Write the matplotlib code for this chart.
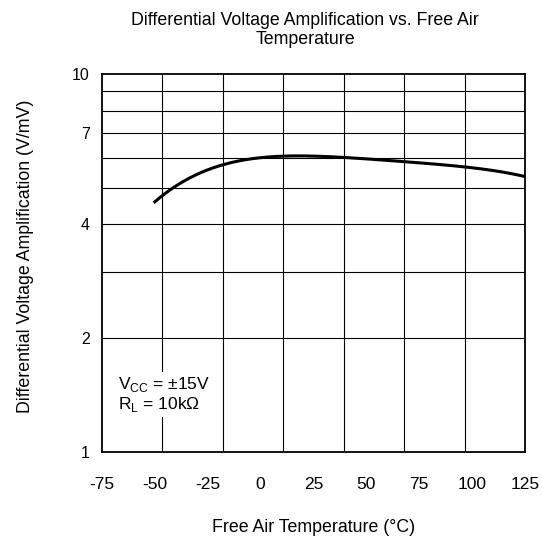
import matplotlib
matplotlib.use("Agg")
import matplotlib.pyplot as plt
import numpy as np
from matplotlib.ticker import FixedLocator, NullLocator

plt.rcParams['font.family'] = ['Liberation Sans', 'DejaVu Sans']

temps = [-50, -40, -25, -10, 0, 15, 25, 50, 75, 100, 125]
gain = [4.56, 5.12, 5.56, 5.88, 6.0, 6.07, 6.06, 5.98, 5.83, 5.63, 5.36]
x_ticks = [-75, -50, -25, 0, 25, 50, 75, 100, 125]
y_ticks = [1, 2, 4, 7, 10]
y_grid = [2, 3, 4, 5, 6, 7, 8, 9]

W, H = 542, 539
fig = plt.figure(figsize=(W / 100, H / 100), dpi=100)
ax = fig.add_axes([102 / W, 1 - 452 / H, 423 / W, 378 / H])
ax.set_yscale('log')
ax.set_xlim(-75, 125)
ax.set_ylim(1, 10)

# curve (smooth through read points)
xs = np.linspace(temps[0], temps[-1], 300)
coef = np.polyfit(temps, np.log10(gain), 4)
ax.plot(xs, 10 ** np.polyval(coef, xs), color='black', lw=2.2, zorder=3)

# grid: horizontal at 2..9, vertical at 7 equal divisions
for g in y_grid:
    ax.axhline(g, color='black', lw=0.8, zorder=1)
for k in range(1, 7):
    ax.axvline(-75 + k * 200 / 7, color='black', lw=0.8, zorder=1)

ax.yaxis.set_major_locator(FixedLocator(y_ticks))
ax.yaxis.set_minor_locator(NullLocator())
ax.set_yticklabels([str(v) for v in y_ticks])
ax.xaxis.set_major_locator(FixedLocator(x_ticks))
ax.set_xticklabels([str(v) for v in x_ticks])
ax.tick_params(axis='y', length=0, labelsize=11.5, pad=9)
ax.tick_params(axis='x', length=0, labelsize=12.5, pad=18)
for s in ax.spines.values():
    s.set_linewidth(1.3)

ax.text(-67.5, 1.42, "V$_{\\mathregular{CC}}$ = ±15V\nR$_{\\mathregular{L}}$ = 10kΩ",
        fontsize=12.5, va='center', ha='left', linespacing=1.05,
        bbox=dict(facecolor='white', edgecolor='none', pad=2), zorder=4)

fig.text(305 / W, 1 - 30 / H, "Differential Voltage Amplification vs. Free Air\nTemperature",
         fontsize=12.8, ha='center', va='center', linespacing=1.2)
fig.text(313.5 / W, 1 - 527 / H, "Free Air Temperature (°C)",
         fontsize=12.8, ha='center', va='center')
fig.text(26 / W, 1 - 256 / H, "Differential Voltage Amplification (V/mV)",
         fontsize=12.8, ha='center', va='center', rotation=90)

fig.savefig("out.png", dpi=100)
